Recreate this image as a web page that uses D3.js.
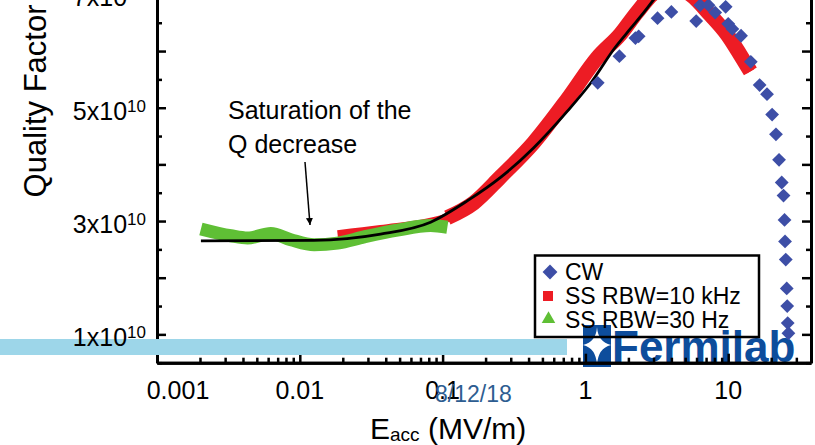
<!DOCTYPE html>
<html>
<head>
<meta charset="utf-8">
<script src="https://cdn.jsdelivr.net/npm/d3@7"></script>
<style>
  body { margin: 0; background: #fff; }
  svg { display: block; font-family: "Liberation Sans", Arial, sans-serif; }
</style>
</head>
<body>
<svg id="chart" width="815" height="445"></svg>
<script>
// E_acc (MV/m) and Q (units of 1e10)
var cwE = [1.22, 1.73, 2.24, 2.36, 3.2, 4.0, 5.97, 6.37, 7.28, 8.11, 9.6, 10.0, 10.7, 12.3, 14.4, 16.6, 18.7, 20.3, 21.6, 22.7, 23.7, 24.4, 24.8, 25.0, 25.3, 25.7, 25.9, 26.1, 26.4]
var cwQ = [5.44, 5.91, 6.23, 6.26, 6.58, 6.69, 6.53, 6.81, 6.81, 6.68, 6.78, 6.48, 6.39, 6.27, 5.81, 5.40, 5.24, 4.88, 4.53, 4.08, 3.68, 3.45, 3.02, 2.64, 2.32, 1.81, 1.50, 1.20, 1.02]

var redE = [0.0184, 0.0368, 0.108, 0.165, 0.2545, 0.433, 0.748, 1.21, 1.76, 2.31, 3.09, 4.06, 5.42, 7.48, 9.84, 12.1, 14.3]
var redQ = [2.76, 2.85, 3.06, 3.32, 3.78, 4.38, 5.15, 5.88, 6.30, 6.69, 7.04, 7.13, 7.0, 6.64, 6.29, 5.94, 5.64]

var greenE = [0.00203, 0.00329, 0.00431, 0.00627, 0.00865, 0.0126, 0.01835, 0.0282, 0.0482, 0.0824, 0.108]
var greenQ = [2.86, 2.74, 2.70, 2.78, 2.67, 2.58, 2.61, 2.72, 2.84, 2.92, 2.89]

var fitE = [0.00203, 0.0125, 0.0368, 0.0824, 0.1496, 0.2545, 0.433, 0.748, 1.1, 1.6, 2.06, 2.6, 3.2]
var fitQ = [2.65, 2.66, 2.77, 2.98, 3.36, 3.77, 4.29, 4.94, 5.45, 6.05, 6.39, 6.7, 7.0]

var xTickVals = [0.001, 0.01, 0.1, 1, 10]
var xTickText = ['0.001', '0.01', '0.1', '1', '10']
var yLabelVals = [1, 3, 5, 7]
var legendNames = ['CW', 'SS RBW=10 kHz', 'SS RBW=30 Hz']

var colors = { cw: '#3d4ea6', red: '#ed1c24', green: '#5fbf35', bar: '#9dd6e9', logo: '#0d4d9c', date: '#2d5d91' }

var svg = d3.select('#chart')
var left = 157, right = 811, bottom = 362.7

var x = d3.scaleLog().domain([0.001, 38]).range([left, right])
var y = d3.scaleLinear().domain([0.5, 7]).range([bottom, -5.6])

function zip(a, b) { return a.map(function(v, i) { return [v, b[i]] }) }

var line = d3.line()
  .x(function(d) { return x(d[0]) })
  .y(function(d) { return y(d[1]) })
  .curve(d3.curveMonotoneX)

// Fermilab logo (under the axes)
var logo = svg.append('g')
logo.append('rect').attr('x', 583).attr('y', 325).attr('width', 28).attr('height', 42).attr('fill', colors.logo)
logo.append('path')
  .attr('d', 'M597,327 Q598,342 611,345 Q598,348 597,365 Q596,348 583,345 Q596,342 597,327 Z')
  .attr('fill', '#fff')
logo.append('text')
  .attr('x', 612).attr('y', 362)
  .attr('font-size', 44).attr('font-weight', 'bold')
  .attr('fill', colors.logo)
  .text('Fermilab')

// data
var plot = svg.append('g')
var red = zip(redE, redQ)
plot.append('path').datum(red)
  .attr('d', line).attr('fill', 'none').attr('stroke', colors.red)
  .attr('stroke-width', 9).attr('stroke-linecap', 'butt')
plot.append('path').datum(red.filter(function(d) { return d[0] >= 0.108 }))
  .attr('d', line).attr('fill', 'none').attr('stroke', colors.red)
  .attr('stroke-width', 15).attr('stroke-linecap', 'butt')
plot.append('path').datum(zip(greenE, greenQ))
  .attr('d', line).attr('fill', 'none').attr('stroke', colors.green)
  .attr('stroke-width', 13).attr('stroke-linecap', 'butt')
plot.append('path').datum(zip(fitE, fitQ))
  .attr('d', line).attr('fill', 'none').attr('stroke', '#000')
  .attr('stroke-width', 2.8)

var diamond = d3.symbol().type(d3.symbolSquare).size(95)
plot.selectAll('.cw').data(zip(cwE, cwQ)).enter().append('path')
  .attr('class', 'cw')
  .attr('d', diamond)
  .attr('transform', function(d) { return 'translate(' + x(d[0]) + ',' + y(d[1]) + ') rotate(45)' })
  .attr('fill', colors.cw)

// axes, ticks inward, labels drawn later
var xMinor = x.ticks().filter(function(v) { return xTickVals.indexOf(v) < 0 })
var yAll = y.ticks(13)
var yMajor = yAll.filter(function(v) { return v % 1 === 0 })
var yMinor = yAll.filter(function(v) { return v % 1 !== 0 })

function styleAxis(g) {
  g.select('.domain').attr('stroke-width', 3)
  g.selectAll('.tick line').attr('stroke-width', 2.5)
  g.selectAll('.tick text').remove()
}

svg.append('g').attr('transform', 'translate(0,' + bottom + ')')
  .call(d3.axisBottom(x).tickValues(xTickVals).tickSizeInner(-9).tickSizeOuter(0).tickFormat(''))
  .call(styleAxis)
svg.append('g').attr('transform', 'translate(0,' + bottom + ')')
  .call(d3.axisBottom(x).tickValues(xMinor).tickSizeInner(-5).tickSizeOuter(0).tickFormat(''))
  .call(styleAxis)

svg.append('g').attr('transform', 'translate(' + left + ',0)')
  .call(d3.axisLeft(y).tickValues(yMajor).tickSizeInner(-9).tickSizeOuter(0).tickFormat(''))
  .call(styleAxis)
svg.append('g').attr('transform', 'translate(' + left + ',0)')
  .call(d3.axisLeft(y).tickValues(yMinor).tickSizeInner(-5).tickSizeOuter(0).tickFormat(''))
  .call(styleAxis)
svg.append('g').attr('transform', 'translate(' + right + ',0)')
  .call(d3.axisRight(y).tickValues(yMajor).tickSizeInner(-9).tickSizeOuter(0).tickFormat(''))
  .call(styleAxis)
svg.append('g').attr('transform', 'translate(' + right + ',0)')
  .call(d3.axisRight(y).tickValues(yMinor).tickSizeInner(-5).tickSizeOuter(0).tickFormat(''))
  .call(styleAxis)

// light blue slide bar across the bottom
svg.append('rect').attr('x', 0).attr('y', 339).attr('width', 567).attr('height', 16).attr('fill', colors.bar)

// legend
var lg = svg.append('g')
lg.append('rect').attr('x', 535).attr('y', 255.5).attr('width', 224).attr('height', 81.5)
  .attr('fill', 'none').attr('stroke', '#000').attr('stroke-width', 2.5)
var legendY = [280, 304, 328]
lg.append('path').attr('d', d3.symbol().type(d3.symbolSquare).size(110))
  .attr('transform', 'translate(550,272) rotate(45)').attr('fill', colors.cw)
lg.append('rect').attr('x', 543).attr('y', 291).attr('width', 10).attr('height', 10).attr('fill', colors.red)
lg.append('path').attr('d', d3.symbol().type(d3.symbolTriangle).size(80))
  .attr('transform', 'translate(548.5,319)').attr('fill', colors.green)
lg.selectAll('.lt').data(legendNames).enter().append('text')
  .attr('x', 565).attr('y', function(d, i) { return legendY[i] })
  .attr('font-size', 23).text(function(d) { return d })

// tick labels
svg.selectAll('.xl').data(xTickVals).enter().append('text')
  .attr('x', function(d, i) { return x(d) + (i === 0 ? 21 : 0) })
  .attr('y', 399).attr('text-anchor', 'middle').attr('font-size', 25)
  .text(function(d, i) { return xTickText[i] })

var yl = svg.selectAll('.yl').data(yLabelVals).enter().append('text')
  .attr('x', 146).attr('y', function(d) { return y(d) + 12 })
  .attr('text-anchor', 'end').attr('font-size', 25)
yl.append('tspan').text(function(d) { return d + 'x10' })
yl.append('tspan').attr('font-size', 17).attr('dy', -8).text('10')

// axis titles
var xt = svg.append('text').attr('x', 370).attr('y', 439).attr('font-size', 30)
xt.append('tspan').text('E')
xt.append('tspan').attr('font-size', 19).attr('dy', 2).text('acc')
xt.append('tspan').attr('dy', -2).text(' (MV/m)')

svg.append('text')
  .attr('transform', 'translate(46,101) rotate(-90)')
  .attr('text-anchor', 'middle').attr('font-size', 31)
  .text('Quality Factor')

// annotation
svg.append('text').attr('x', 228).attr('y', 119).attr('font-size', 25).text('Saturation of the')
svg.append('text').attr('x', 228).attr('y', 153).attr('font-size', 25).text('Q decrease')
svg.append('defs').append('marker')
  .attr('id', 'head').attr('viewBox', '0 0 10 10').attr('refX', 10).attr('refY', 5)
  .attr('markerWidth', 7).attr('markerHeight', 9).attr('markerUnits', 'userSpaceOnUse')
  .attr('orient', 'auto')
  .append('path').attr('d', 'M0,0 L10,5 L0,10 Z').attr('fill', '#000')
svg.append('line').attr('x1', 305).attr('y1', 162).attr('x2', 310).attr('y2', 225)
  .attr('stroke', '#000').attr('stroke-width', 1.5).attr('marker-end', 'url(#head)')

// slide date
svg.append('text').attr('x', 435).attr('y', 402).attr('font-size', 23).attr('fill', colors.date).text('8/12/18')
</script>
</body>
</html>
